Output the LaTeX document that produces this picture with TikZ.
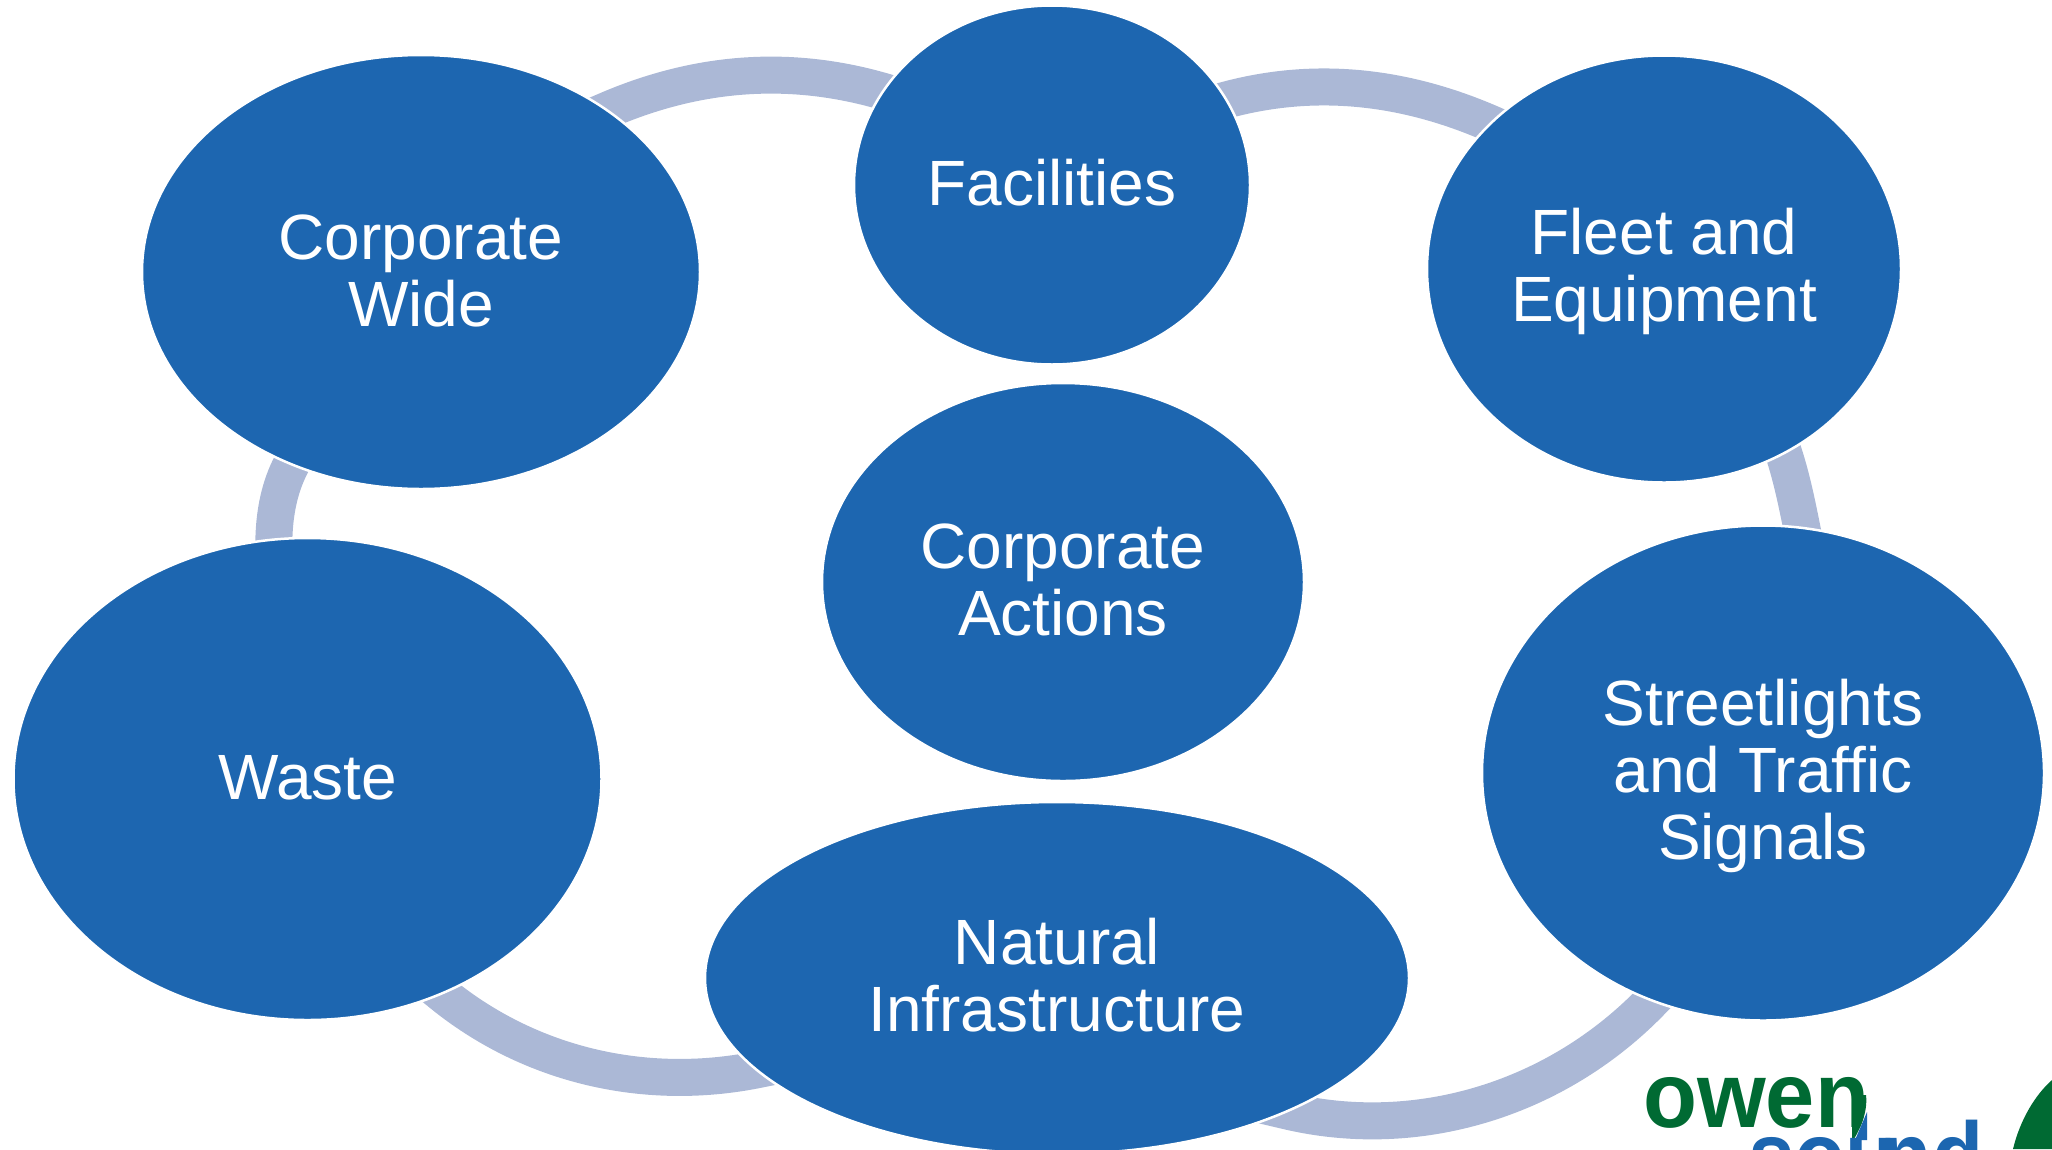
\documentclass[tikz,border=0pt]{standalone}
\usepackage{fontspec}
\setmainfont{Liberation Sans}
\usetikzlibrary{shapes.geometric,backgrounds,calc}
\definecolor{nodeblue}{HTML}{1D66B0}
\definecolor{bandblue}{HTML}{ABB8D6}
\definecolor{logogreen}{HTML}{006A33}
\definecolor{logoblue}{HTML}{1C66B0}
% invisible struts that fix the text block's height above the first and below the last baseline
\newcommand{\topstrut}[1]{\rule{0pt}{\dimexpr 60pt+#1pt\relax}}
\newcommand{\botstrut}[1]{\rule[\dimexpr -60pt+#1pt\relax]{0pt}{\dimexpr 60pt-#1pt\relax}}
% band from anchor to anchor, with its ends run on along the tangent under the nodes
\newcommand{\bandarc}[4]{\draw[band] ($(#1)!-30pt!(#2)$) -- (#1) .. controls (#2) and (#3) .. (#4) -- ($(#4)!-30pt!(#3)$);}
\tikzset{
  x=1pt,y=-1pt,
  blob/.style={ellipse,fill=nodeblue,draw=white,line width=2.5pt,inner sep=0pt,outer sep=0pt,
    text=white,align=center,font=\fontsize{64}{67}\selectfont},
  band/.style={draw=bandblue,line width=37pt,line cap=butt,line join=round},
  logotext/.style={anchor=base west,inner sep=0pt,font=\fontsize{93}{93}\bfseries\selectfont}
}
\begin{document}
\begin{tikzpicture}
\useasboundingbox (0,0) rectangle (2052,1149);
\clip (0,0) rectangle (2052,1149);
\node[blob,minimum width=558pt,minimum height=434pt] (cw) at (421,272) {\topstrut{21}Corporate\\Wide\botstrut{21}};
\node[blob,minimum width=396pt,minimum height=359pt] (fac) at (1052,185) {\topstrut{20.5}Facilities\botstrut{20.5}};
\node[blob,minimum width=474pt,minimum height=427pt] (fleet) at (1664,269) {\topstrut{18.5}Fleet and\\Equipment\botstrut{18.5}};
\node[blob,minimum width=562pt,minimum height=495pt] (street) at (1763,773) {\topstrut{19.5}Streetlights\\and Traffic\\Signals\botstrut{19.5}};
\node[blob,minimum width=704pt,minimum height=352pt] (nat) at (1057,978) {\topstrut{20}Natural\\Infrastructure\botstrut{20}};
\node[blob,minimum width=588pt,minimum height=482pt] (waste) at (307.5,779) {\topstrut{20.5}Waste\botstrut{20.5}};
\node[blob,minimum width=482pt,minimum height=398pt] (act) at (1063,582) {\topstrut{20}Corporate\\Actions\botstrut{20}};
\begin{scope}[on background layer]
\bandarc{cw.41}{699,70.7}{791,64.7}{fac.151}
\bandarc{fac.26.5}{1313,76.7}{1401,84.7}{fleet.140}
\bandarc{fleet.-57.5}{1792,479}{1797,504}{street.81.2}
\bandarc{street.-116.4}{1556,1100}{1417,1141.5}{nat.-30.5}
\bandarc{nat.-163.4}{645,1092}{530,1065.5}{waste.-58.4}
\bandarc{waste.98.6}{274.5,511}{280,486}{cw.-124.4}
\end{scope}
% logo
\node[logotext,text=logogreen,xscale=.95] (owen) at (1643,1127) {owen};
\fill[white] (1866,1095) .. controls (1868,1112) and (1860,1130) .. (1852,1142) -- (1878,1142) -- (1878,1095) -- cycle;
\fill[logogreen] (1852,1095) -- (1852,1142) .. controls (1860,1130) and (1868,1112) .. (1866,1095) -- cycle;
\node[logotext,text=logoblue,xscale=.9] (sound) at (1748,1187) {sou\kern-18ptnd};
\fill[logoblue] (1867,1112) -- (1867,1140) -- (1855,1140) -- cycle;
\fill[logogreen] (2013,1149) .. controls (2020,1120) and (2035,1095) .. (2052,1080) -- (2052,1149) -- cycle;
\end{tikzpicture}
\end{document}
